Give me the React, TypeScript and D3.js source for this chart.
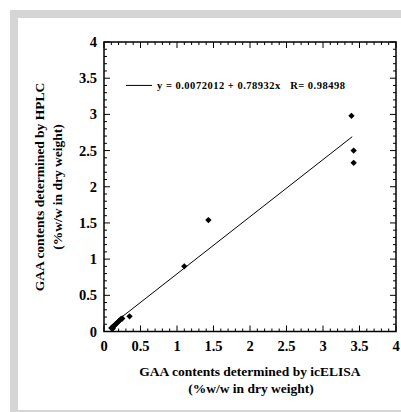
import { useEffect, useRef } from 'react';
import * as d3 from 'd3';

// icELISA vs HPLC values (%w/w)
const elisa = [0.1, 0.12, 0.13, 0.15, 0.17, 0.19, 0.21, 0.23, 0.25, 0.35, 1.1, 1.43, 3.39, 3.42, 3.42];
const hplc = [0.05, 0.04, 0.07, 0.09, 0.11, 0.13, 0.15, 0.17, 0.18, 0.21, 0.9, 1.54, 2.98, 2.5, 2.33];
const fitLine = { intercept: 0.0072012, slope: 0.78932, r: 0.98498 };
const xTicks = [0, 0.5, 1, 1.5, 2, 2.5, 3, 3.5, 4];
const yTicks = [0, 0.5, 1, 1.5, 2, 2.5, 3, 3.5, 4];

export default function App() {
  const svgRef = useRef<SVGSVGElement>(null);

  useEffect(() => {
    const width = 401;
    const height = 412;
    const margin = { top: 42, right: 5, bottom: 80, left: 104 };
    const innerWidth = 396 - margin.left;
    const innerHeight = 331.5 - margin.top;

    const svg = d3.select(svgRef.current);
    svg.selectAll('*').remove();
    svg.attr('width', width).attr('height', height);

    // gray frame
    svg.append('rect').attr('x', 10).attr('y', 10).attr('width', 400).attr('height', 402).attr('fill', '#d5d5d5');
    svg.append('rect').attr('x', 18).attr('y', 18).attr('width', 390).attr('height', 392).attr('fill', '#fff');

    const g = svg.append('g').attr('transform', `translate(${margin.left},${margin.top})`);

    const x = d3.scaleLinear().domain([0, 4]).range([0, innerWidth]);
    const y = d3.scaleLinear().domain([0, 4]).range([innerHeight, 0]);

    const font = '"Liberation Serif", "Times New Roman", serif';
    const minor = d3.range(0, 4.0001, 0.1);

    // frame
    g.append('rect')
      .attr('width', innerWidth)
      .attr('height', innerHeight)
      .attr('fill', 'none')
      .attr('stroke', '#000')
      .attr('stroke-width', 1.5);

    const isMajor = (v: number) => Math.abs(v * 2 - Math.round(v * 2)) < 1e-6;

    // ticks, pointing inwards on all four sides
    minor.forEach(v => {
      const len = isMajor(v) ? 6 : 3;
      const px = x(v);
      const py = y(v);
      g.append('line').attr('x1', px).attr('x2', px).attr('y1', innerHeight).attr('y2', innerHeight - len).attr('stroke', '#000');
      g.append('line').attr('x1', px).attr('x2', px).attr('y1', 0).attr('y2', len).attr('stroke', '#000');
      g.append('line').attr('x1', 0).attr('x2', len).attr('y1', py).attr('y2', py).attr('stroke', '#000');
      g.append('line').attr('x1', innerWidth).attr('x2', innerWidth - len).attr('y1', py).attr('y2', py).attr('stroke', '#000');
    });

    // tick labels
    g.selectAll('.xl')
      .data(xTicks)
      .join('text')
      .attr('x', d => x(d))
      .attr('y', innerHeight + 19)
      .attr('text-anchor', 'middle')
      .style('font-family', font)
      .style('font-weight', 'bold')
      .style('font-size', '14.5px')
      .text(d => String(d));

    g.selectAll('.yl')
      .data(yTicks)
      .join('text')
      .attr('x', -7)
      .attr('y', d => y(d) + 5)
      .attr('text-anchor', 'end')
      .style('font-family', font)
      .style('font-weight', 'bold')
      .style('font-size', '14.5px')
      .text(d => String(d));

    // regression line
    const x0 = d3.min(elisa) as number;
    const x1 = 3.4;
    g.append('line')
      .attr('x1', x(x0))
      .attr('y1', y(fitLine.intercept + fitLine.slope * x0))
      .attr('x2', x(x1))
      .attr('y2', y(fitLine.intercept + fitLine.slope * x1))
      .attr('stroke', '#000')
      .attr('stroke-width', 1);

    // points (square diamonds)
    const diamond = d3.symbol().type(d3.symbolSquare).size(20);
    g.selectAll('.pt')
      .data(elisa.map((e, i) => [e, hplc[i]]))
      .join('path')
      .attr('transform', d => `translate(${x(d[0])},${y(d[1])}) rotate(45)`)
      .attr('d', diamond)
      .attr('fill', '#000');

    // legend
    g.append('line')
      .attr('x1', 22).attr('x2', 48)
      .attr('y1', y(3.4)).attr('y2', y(3.4))
      .attr('stroke', '#000');
    g.append('text')
      .attr('x', 53)
      .attr('y', y(3.4) + 4)
      .style('font-family', font)
      .style('font-weight', 'bold')
      .style('font-size', '10.5px')
      .attr('textLength', 188)
      .attr('xml:space', 'preserve')
      .text(`y = ${fitLine.intercept} + ${fitLine.slope}x   R= ${fitLine.r}`);

    // axis titles
    const xt = svg.append('text')
      .attr('text-anchor', 'middle')
      .style('font-family', font)
      .style('font-weight', 'bold')
      .style('font-size', '13.5px');
    xt.append('tspan').attr('x', 250).attr('y', 376).text('GAA contents determined by icELISA');
    xt.append('tspan').attr('x', 251).attr('y', 393).text('(%w/w in dry weight)');

    const yt = svg.append('text')
      .attr('transform', 'translate(0,187) rotate(-90)')
      .attr('text-anchor', 'middle')
      .style('font-family', font)
      .style('font-weight', 'bold')
      .style('font-size', '13.5px');
    yt.append('tspan').attr('x', 0).attr('y', 44).text('GAA contents determined by HPLC');
    yt.append('tspan').attr('x', 0).attr('y', 62).text('(%w/w in dry weight)');
  }, []);

  return <svg ref={svgRef} style={{ position: 'absolute', left: 0, top: 0 }}></svg>;
}
